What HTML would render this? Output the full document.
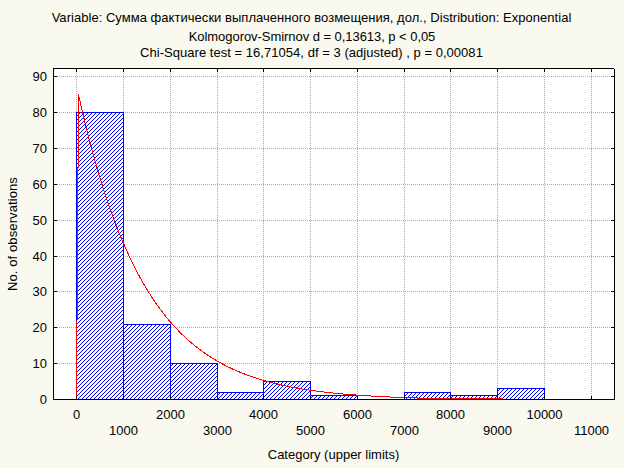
<!DOCTYPE html>
<html><head><meta charset="utf-8"><style>
html,body{margin:0;padding:0;}
body{width:624px;height:468px;position:relative;overflow:hidden;background:#f9f9ef;}
.t{position:absolute;font-family:"Liberation Sans",sans-serif;font-size:13px;line-height:16px;color:#000;white-space:pre;}
</style></head><body>
<svg width="624" height="468" viewBox="0 0 624 468" shape-rendering="crispEdges" style="position:absolute;left:0;top:0"><defs><pattern id="h" width="4" height="4" patternUnits="userSpaceOnUse"><rect width="4" height="4" fill="#fff"/><rect x="0" y="0" width="1" height="1" fill="#00f"/><rect x="1" y="3" width="1" height="1" fill="#00f"/><rect x="2" y="2" width="1" height="1" fill="#00f"/><rect x="3" y="1" width="1" height="1" fill="#00f"/></pattern></defs><rect x="53" y="68" width="562" height="332" fill="#fff"/><line x1="53" y1="76.5" x2="615" y2="76.5" stroke="#a0b0a6" stroke-width="1" stroke-dasharray="1 1"/><line x1="53" y1="112.5" x2="615" y2="112.5" stroke="#a0b0a6" stroke-width="1" stroke-dasharray="1 1"/><line x1="53" y1="148.5" x2="615" y2="148.5" stroke="#a0b0a6" stroke-width="1" stroke-dasharray="1 1"/><line x1="53" y1="184.5" x2="615" y2="184.5" stroke="#a0b0a6" stroke-width="1" stroke-dasharray="1 1"/><line x1="53" y1="220.5" x2="615" y2="220.5" stroke="#a0b0a6" stroke-width="1" stroke-dasharray="1 1"/><line x1="53" y1="256.5" x2="615" y2="256.5" stroke="#a0b0a6" stroke-width="1" stroke-dasharray="1 1"/><line x1="53" y1="291.5" x2="615" y2="291.5" stroke="#a0b0a6" stroke-width="1" stroke-dasharray="1 1"/><line x1="53" y1="327.5" x2="615" y2="327.5" stroke="#a0b0a6" stroke-width="1" stroke-dasharray="1 1"/><line x1="53" y1="363.5" x2="615" y2="363.5" stroke="#a0b0a6" stroke-width="1" stroke-dasharray="1 1"/><line x1="76.5" y1="69" x2="76.5" y2="399" stroke="#a0b0a6" stroke-width="1" stroke-dasharray="1 1"/><line x1="123.5" y1="69" x2="123.5" y2="399" stroke="#a0b0a6" stroke-width="1" stroke-dasharray="1 1"/><line x1="170.5" y1="69" x2="170.5" y2="399" stroke="#a0b0a6" stroke-width="1" stroke-dasharray="1 1"/><line x1="217.5" y1="69" x2="217.5" y2="399" stroke="#a0b0a6" stroke-width="1" stroke-dasharray="1 1"/><line x1="263.5" y1="69" x2="263.5" y2="399" stroke="#a0b0a6" stroke-width="1" stroke-dasharray="1 1"/><line x1="310.5" y1="69" x2="310.5" y2="399" stroke="#a0b0a6" stroke-width="1" stroke-dasharray="1 1"/><line x1="357.5" y1="69" x2="357.5" y2="399" stroke="#a0b0a6" stroke-width="1" stroke-dasharray="1 1"/><line x1="404.5" y1="69" x2="404.5" y2="399" stroke="#a0b0a6" stroke-width="1" stroke-dasharray="1 1"/><line x1="450.5" y1="69" x2="450.5" y2="399" stroke="#a0b0a6" stroke-width="1" stroke-dasharray="1 1"/><line x1="497.5" y1="69" x2="497.5" y2="399" stroke="#a0b0a6" stroke-width="1" stroke-dasharray="1 1"/><line x1="544.5" y1="69" x2="544.5" y2="399" stroke="#a0b0a6" stroke-width="1" stroke-dasharray="1 1"/><line x1="591.5" y1="69" x2="591.5" y2="399" stroke="#a0b0a6" stroke-width="1" stroke-dasharray="1 1"/><rect x="76" y="112" width="48" height="288" fill="url(#h)"/><rect x="76" y="112" width="48" height="1" fill="#00f"/><rect x="76" y="112" width="1" height="288" fill="#00f"/><rect x="123" y="112" width="1" height="288" fill="#00f"/><rect x="123" y="324" width="48" height="76" fill="url(#h)"/><rect x="123" y="324" width="48" height="1" fill="#00f"/><rect x="123" y="324" width="1" height="76" fill="#00f"/><rect x="170" y="324" width="1" height="76" fill="#00f"/><rect x="170" y="363" width="48" height="37" fill="url(#h)"/><rect x="170" y="363" width="48" height="1" fill="#00f"/><rect x="170" y="363" width="1" height="37" fill="#00f"/><rect x="217" y="363" width="1" height="37" fill="#00f"/><rect x="217" y="392" width="47" height="8" fill="url(#h)"/><rect x="217" y="392" width="47" height="1" fill="#00f"/><rect x="217" y="392" width="1" height="8" fill="#00f"/><rect x="263" y="392" width="1" height="8" fill="#00f"/><rect x="263" y="381" width="48" height="19" fill="url(#h)"/><rect x="263" y="381" width="48" height="1" fill="#00f"/><rect x="263" y="381" width="1" height="19" fill="#00f"/><rect x="310" y="381" width="1" height="19" fill="#00f"/><rect x="310" y="395" width="48" height="5" fill="url(#h)"/><rect x="310" y="395" width="48" height="1" fill="#00f"/><rect x="310" y="395" width="1" height="5" fill="#00f"/><rect x="357" y="395" width="1" height="5" fill="#00f"/><rect x="404" y="392" width="47" height="8" fill="url(#h)"/><rect x="404" y="392" width="47" height="1" fill="#00f"/><rect x="404" y="392" width="1" height="8" fill="#00f"/><rect x="450" y="392" width="1" height="8" fill="#00f"/><rect x="450" y="395" width="48" height="5" fill="url(#h)"/><rect x="450" y="395" width="48" height="1" fill="#00f"/><rect x="450" y="395" width="1" height="5" fill="#00f"/><rect x="497" y="395" width="1" height="5" fill="#00f"/><rect x="497" y="388" width="48" height="12" fill="url(#h)"/><rect x="497" y="388" width="48" height="1" fill="#00f"/><rect x="497" y="388" width="1" height="12" fill="#00f"/><rect x="544" y="388" width="1" height="12" fill="#00f"/><polyline fill="none" stroke="#f00" stroke-width="1" points="76.5,399.5 78.5,94.5 79.5,99.01 80.5,103.44 81.5,107.82 82.5,112.12 83.5,116.37 84.5,120.55 85.5,124.67 86.5,128.72 87.5,132.72 88.5,136.66 89.5,140.54 90.5,144.37 91.5,148.14 92.5,151.85 93.5,155.51 94.5,159.11 95.5,162.66 96.5,166.16 97.5,169.61 98.5,173.0 99.5,176.35 100.5,179.65 101.5,182.89 102.5,186.09 103.5,189.25 104.5,192.35 105.5,195.41 106.5,198.43 107.5,201.4 108.5,204.33 109.5,207.21 110.5,210.05 111.5,212.85 112.5,215.61 113.5,218.33 114.5,221.01 115.5,223.65 116.5,226.25 117.5,228.81 118.5,231.33 119.5,233.82 120.5,236.27 121.5,238.68 122.5,241.06 123.5,243.4 124.5,245.71 125.5,247.98 126.5,250.22 127.5,252.43 128.5,254.61 129.5,256.75 130.5,258.86 131.5,260.94 132.5,262.99 133.5,265.01 134.5,267.0 135.5,268.96 136.5,270.89 137.5,272.8 138.5,274.67 139.5,276.52 140.5,278.34 141.5,280.13 142.5,281.9 143.5,283.64 144.5,285.36 145.5,287.05 146.5,288.71 147.5,290.35 148.5,291.97 149.5,293.56 150.5,295.13 151.5,296.67 152.5,298.2 153.5,299.7 154.5,301.18 155.5,302.63 156.5,304.07 157.5,305.48 158.5,306.88 159.5,308.25 160.5,309.6 161.5,310.93 162.5,312.25 163.5,313.54 164.5,314.81 165.5,316.07 166.5,317.31 167.5,318.53 168.5,319.73 169.5,320.91 170.5,322.08 171.5,323.22 172.5,324.36 173.5,325.47 174.5,326.57 175.5,327.65 176.5,328.72 177.5,329.77 178.5,330.8 179.5,331.82 180.5,332.83 181.5,333.82 182.5,334.8 183.5,335.76 184.5,336.7 185.5,337.64 186.5,338.56 187.5,339.46 188.5,340.35 189.5,341.23 190.5,342.1 191.5,342.95 192.5,343.79 193.5,344.62 194.5,345.44 195.5,346.24 196.5,347.03 197.5,347.82 198.5,348.58 199.5,349.34 200.5,350.09 201.5,350.82 202.5,351.55 203.5,352.26 204.5,352.97 205.5,353.66 206.5,354.34 207.5,355.02 208.5,355.68 209.5,356.33 210.5,356.98 211.5,357.61 212.5,358.24 213.5,358.85 214.5,359.46 215.5,360.06 216.5,360.64 217.5,361.22 218.5,361.8 219.5,362.36 220.5,362.91 221.5,363.46 222.5,364.0 223.5,364.53 224.5,365.05 225.5,365.57 226.5,366.08 227.5,366.58 228.5,367.07 229.5,367.55 230.5,368.03 231.5,368.5 232.5,368.97 233.5,369.42 234.5,369.88 235.5,370.32 236.5,370.76 237.5,371.19 238.5,371.61 239.5,372.03 240.5,372.44 241.5,372.85 242.5,373.25 243.5,373.64 244.5,374.03 245.5,374.42 246.5,374.79 247.5,375.16 248.5,375.53 249.5,375.89 250.5,376.25 251.5,376.6 252.5,376.94 253.5,377.28 254.5,377.62 255.5,377.95 256.5,378.27 257.5,378.59 258.5,378.91 259.5,379.22 260.5,379.52 261.5,379.83 262.5,380.12 263.5,380.42 264.5,380.71 265.5,380.99 266.5,381.27 267.5,381.55 268.5,381.82 269.5,382.09 270.5,382.35 271.5,382.61 272.5,382.87 273.5,383.12 274.5,383.37 275.5,383.61 276.5,383.85 277.5,384.09 278.5,384.33 279.5,384.56 280.5,384.79 281.5,385.01 282.5,385.23 283.5,385.45 284.5,385.66 285.5,385.87 286.5,386.08 287.5,386.29 288.5,386.49 289.5,386.69 290.5,386.89 291.5,387.08 292.5,387.27 293.5,387.46 294.5,387.64 295.5,387.82 296.5,388.0 297.5,388.18 298.5,388.35 299.5,388.53 300.5,388.7 301.5,388.86 302.5,389.03 303.5,389.19 304.5,389.35 305.5,389.5 306.5,389.66 307.5,389.81 308.5,389.96 309.5,390.11 310.5,390.26 311.5,390.4 312.5,390.54 313.5,390.68 314.5,390.82 315.5,390.95 316.5,391.09 317.5,391.22 318.5,391.35 319.5,391.47 320.5,391.6 321.5,391.72 322.5,391.85 323.5,391.97 324.5,392.08 325.5,392.2 326.5,392.32 327.5,392.43 328.5,392.54 329.5,392.65 330.5,392.76 331.5,392.87 332.5,392.97 333.5,393.07 334.5,393.18 335.5,393.28 336.5,393.38 337.5,393.47 338.5,393.57 339.5,393.67 340.5,393.76 341.5,393.85 342.5,393.94 343.5,394.03 344.5,394.12 345.5,394.21 346.5,394.29 347.5,394.37 348.5,394.46 349.5,394.54 350.5,394.62 351.5,394.7 352.5,394.78 353.5,394.85 354.5,394.93 355.5,395.0 356.5,395.08 357.5,395.15 358.5,395.22 359.5,395.29 360.5,395.36 361.5,395.43 362.5,395.5 363.5,395.56 364.5,395.63 365.5,395.69 366.5,395.76 367.5,395.82 368.5,395.88 369.5,395.94 370.5,396.0 371.5,396.06 372.5,396.12 373.5,396.18 374.5,396.23 375.5,396.29 376.5,396.34 377.5,396.4 378.5,396.45 379.5,396.5 380.5,396.55 381.5,396.6 382.5,396.65 383.5,396.7 384.5,396.75 385.5,396.8 386.5,396.85 387.5,396.89 388.5,396.94 389.5,396.99 390.5,397.03 391.5,397.07 392.5,397.12 393.5,397.16 394.5,397.2 395.5,397.24 396.5,397.28 397.5,397.32 398.5,397.36 399.5,397.4 400.5,397.44 401.5,397.48 402.5,397.51 403.5,397.55 404.5,397.59 405.5,397.62 406.5,397.66 407.5,397.69 408.5,397.73 409.5,397.76 410.5,397.79 411.5,397.83 412.5,397.86 413.5,397.89 414.5,397.92 415.5,397.95 416.5,397.98 417.5,398.01 418.5,398.04 419.5,398.07 420.5,398.1 421.5,398.13 422.5,398.15 423.5,398.18 424.5,398.21 425.5,398.23 426.5,398.26 427.5,398.29 428.5,398.31 429.5,398.34 430.5,398.36 431.5,398.38 432.5,398.41 433.5,398.43 434.5,398.45 435.5,398.48 436.5,398.5 437.5,398.5 438.5,398.5 439.5,398.5 440.5,398.5 441.5,398.5 442.5,398.5 443.5,398.5 444.5,398.5 445.5,398.5 446.5,398.5 447.5,398.5 448.5,398.5 449.5,398.5 450.5,398.5 451.5,398.5 452.5,398.5 453.5,398.5 454.5,398.5 455.5,398.5 456.5,398.5 457.5,398.5 458.5,398.5 459.5,398.5 460.5,398.5 461.5,398.5 462.5,398.5 463.5,398.5 464.5,398.5 465.5,398.5 466.5,398.5 467.5,398.5 468.5,398.5 469.5,398.5 470.5,398.5 471.5,398.5 472.5,398.5 473.5,398.5 474.5,398.5 475.5,398.5 476.5,398.5 477.5,398.5 478.5,398.5 479.5,398.5 480.5,398.5 481.5,398.5 482.5,398.5 483.5,398.5 484.5,398.5 485.5,398.5 486.5,398.5 487.5,398.5 488.5,398.5 489.5,398.5 490.5,398.5 491.5,398.5 492.5,398.5 493.5,398.5 494.5,398.5 495.5,398.5 496.5,398.5 497.5,398.5 498.5,398.5 499.5,398.5 500.5,398.5 501.5,398.5 502.5,398.5"/><rect x="53" y="68" width="561" height="1" fill="#000"/><rect x="53" y="399" width="562" height="1" fill="#000"/><rect x="53" y="68" width="1" height="332" fill="#000"/><rect x="614" y="69" width="1" height="331" fill="#000"/><rect x="76" y="68" width="1" height="4" fill="#000"/><rect x="76" y="396" width="1" height="4" fill="#000"/><rect x="123" y="68" width="1" height="4" fill="#000"/><rect x="123" y="396" width="1" height="4" fill="#000"/><rect x="170" y="68" width="1" height="4" fill="#000"/><rect x="170" y="396" width="1" height="4" fill="#000"/><rect x="217" y="68" width="1" height="4" fill="#000"/><rect x="217" y="396" width="1" height="4" fill="#000"/><rect x="263" y="68" width="1" height="4" fill="#000"/><rect x="263" y="396" width="1" height="4" fill="#000"/><rect x="310" y="68" width="1" height="4" fill="#000"/><rect x="310" y="396" width="1" height="4" fill="#000"/><rect x="357" y="68" width="1" height="4" fill="#000"/><rect x="357" y="396" width="1" height="4" fill="#000"/><rect x="404" y="68" width="1" height="4" fill="#000"/><rect x="404" y="396" width="1" height="4" fill="#000"/><rect x="450" y="68" width="1" height="4" fill="#000"/><rect x="450" y="396" width="1" height="4" fill="#000"/><rect x="497" y="68" width="1" height="4" fill="#000"/><rect x="497" y="396" width="1" height="4" fill="#000"/><rect x="544" y="68" width="1" height="4" fill="#000"/><rect x="544" y="396" width="1" height="4" fill="#000"/><rect x="591" y="68" width="1" height="4" fill="#000"/><rect x="591" y="396" width="1" height="4" fill="#000"/><rect x="53" y="76" width="4" height="1" fill="#000"/><rect x="611" y="76" width="4" height="1" fill="#000"/><rect x="53" y="112" width="4" height="1" fill="#000"/><rect x="611" y="112" width="4" height="1" fill="#000"/><rect x="53" y="148" width="4" height="1" fill="#000"/><rect x="611" y="148" width="4" height="1" fill="#000"/><rect x="53" y="184" width="4" height="1" fill="#000"/><rect x="611" y="184" width="4" height="1" fill="#000"/><rect x="53" y="220" width="4" height="1" fill="#000"/><rect x="611" y="220" width="4" height="1" fill="#000"/><rect x="53" y="256" width="4" height="1" fill="#000"/><rect x="611" y="256" width="4" height="1" fill="#000"/><rect x="53" y="291" width="4" height="1" fill="#000"/><rect x="611" y="291" width="4" height="1" fill="#000"/><rect x="53" y="327" width="4" height="1" fill="#000"/><rect x="611" y="327" width="4" height="1" fill="#000"/><rect x="53" y="363" width="4" height="1" fill="#000"/><rect x="611" y="363" width="4" height="1" fill="#000"/><rect x="53" y="399" width="4" height="1" fill="#000"/><rect x="611" y="399" width="4" height="1" fill="#000"/></svg>
<div class="t" style="top:10px;left:11.5px;width:600px;text-align:center;letter-spacing:0.036px;">Variable: Сумма фактически выплаченного возмещения, дол., Distribution: Exponential</div><div class="t" style="top:29px;left:12px;width:600px;text-align:center;letter-spacing:-0.05px;">Kolmogorov-Smirnov d = 0,13613, p &lt; 0,05</div><div class="t" style="top:45px;left:11.5px;width:600px;text-align:center;letter-spacing:0.035px;">Chi-Square test = 16,71054, df = 3 (adjusted) , p = 0,00081</div><div class="t" style="top:69px;left:-53px;width:100px;text-align:right;">90</div><div class="t" style="top:105px;left:-53px;width:100px;text-align:right;">80</div><div class="t" style="top:141px;left:-53px;width:100px;text-align:right;">70</div><div class="t" style="top:177px;left:-53px;width:100px;text-align:right;">60</div><div class="t" style="top:213px;left:-53px;width:100px;text-align:right;">50</div><div class="t" style="top:249px;left:-53px;width:100px;text-align:right;">40</div><div class="t" style="top:284px;left:-53px;width:100px;text-align:right;">30</div><div class="t" style="top:320px;left:-53px;width:100px;text-align:right;">20</div><div class="t" style="top:356px;left:-53px;width:100px;text-align:right;">10</div><div class="t" style="top:392px;left:-53px;width:100px;text-align:right;">0</div><div class="t" style="top:407px;left:-223.5px;width:600px;text-align:center;">0</div><div class="t" style="top:423px;left:-176.5px;width:600px;text-align:center;">1000</div><div class="t" style="top:407px;left:-129.5px;width:600px;text-align:center;">2000</div><div class="t" style="top:423px;left:-82.5px;width:600px;text-align:center;">3000</div><div class="t" style="top:407px;left:-36.5px;width:600px;text-align:center;">4000</div><div class="t" style="top:423px;left:10.5px;width:600px;text-align:center;">5000</div><div class="t" style="top:407px;left:57.5px;width:600px;text-align:center;">6000</div><div class="t" style="top:423px;left:104.5px;width:600px;text-align:center;">7000</div><div class="t" style="top:407px;left:150.5px;width:600px;text-align:center;">8000</div><div class="t" style="top:423px;left:197.5px;width:600px;text-align:center;">9000</div><div class="t" style="top:407px;left:244.5px;width:600px;text-align:center;">10000</div><div class="t" style="top:423px;left:291.5px;width:600px;text-align:center;">11000</div><div class="t" style="top:447px;left:33.5px;width:600px;text-align:center;">Category (upper limits)</div><div class="t" style="left:-47px;top:226px;width:120px;text-align:center;transform:rotate(-90deg);transform-origin:60px 8px;letter-spacing:0.1px;">No. of observations</div>
</body></html>
